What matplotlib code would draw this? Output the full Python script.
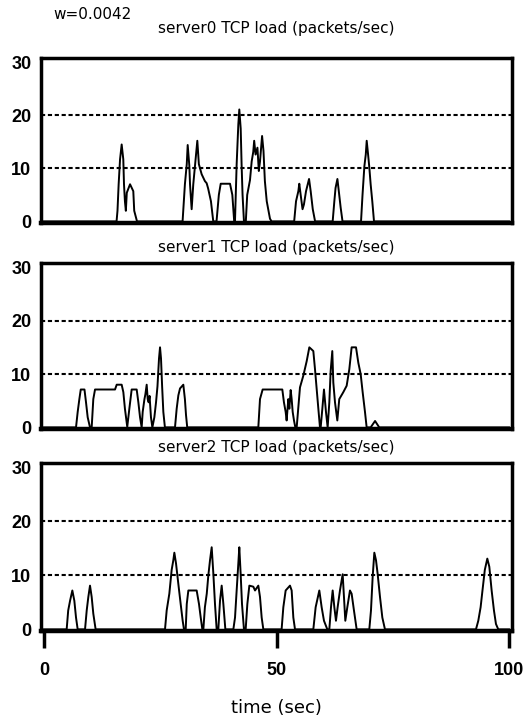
import numpy as np
import matplotlib
matplotlib.use("Agg")
import matplotlib.pyplot as plt

# carga TCP de cada servidor (puntos de quiebre)
t0 = [0, 15.6, 15.8, 16.05, 16.35, 16.7, 17.05, 17.2, 17.4, 17.6, 17.8, 18.5, 19.2, 19.4, 20.0,
      29.8, 30.3, 30.7, 30.9, 31.25, 31.4, 31.75, 32.1, 32.97, 33.3, 33.9, 34.6, 34.98, 35.3, 35.9, 36.4,
      37.1, 37.6, 38.0, 40.0, 40.5, 40.9,
      41.07, 41.43, 41.79, 42.0, 42.3, 42.5, 42.7, 43.0,
      43.4, 43.7, 44.3, 44.66, 45.0, 45.2, 45.5, 45.9, 46.2, 46.45, 46.9, 47.2, 47.5, 47.9, 48.6, 48.95,
      53.8, 54.2, 54.7, 54.9, 55.2, 55.6, 55.9, 56.35, 57.0, 57.35, 57.8, 58.3,
      62.08, 62.44, 62.7, 63.1, 63.4, 63.8, 64.2,
      68.18, 68.5, 68.9, 69.2, 69.4, 69.7, 69.97, 70.25, 70.6, 70.97, 100]
load0 = [0, 0, 2, 7, 11.7, 14.5, 11.7, 7, 3.8, 2, 5.4, 7, 5.7, 2, 0,
         0, 7, 10.8, 14.4, 10.5, 7, 2.3, 7, 15.2, 10.8, 8.9, 7.6, 7.2, 6.2, 3.8, 0,
         0, 5, 7.1, 7.1, 5, 0,
         0, 10.8, 18.3, 21.1, 17.5, 10.5, 5, 0,
         0, 5, 7.8, 11.3, 13.1, 15.2, 12.6, 13.9, 9.5, 11.3, 16.1, 13.3, 7.6, 3.8, 0.5, 0,
         0, 3.8, 5.7, 7.1, 5, 2.3, 3.2, 5.7, 8, 5.7, 2.3, 0,
         0, 3.8, 6.3, 8, 5.7, 2.6, 0,
         0, 5, 10.4, 12.6, 15.2, 12.6, 10.1, 7, 3.8, 0, 0]

t1 = [0, 6.88, 7.24, 7.6, 7.9, 8.7, 9.03, 9.39, 9.89,
      10.25, 10.6, 10.97, 15.27, 15.63, 16.7, 17.06, 17.4, 17.9,
      18.35, 18.85, 19.93, 20.29, 20.65, 21.0,
      21.22, 21.6, 21.8, 22.08, 22.3, 22.5, 22.7, 23.0, 23.3,
      23.73, 24.09, 24.4, 24.73, 24.95, 25.16, 25.4, 25.66, 26.0,
      28.17, 28.53, 28.89, 29.25, 29.96, 30.3, 30.54, 30.8,
      46.09, 46.45, 47.02, 51.25, 51.6, 51.97, 52.18, 52.54, 52.76, 53.05, 53.26, 53.48, 53.76, 54.05,
      54.34, 55.05, 55.77, 56.49, 57.06, 57.56, 57.92, 58.28, 58.64, 59.0, 59.35,
      59.5, 59.86, 60.21, 60.64, 61.0, 61.36, 61.65, 62.0, 62.22, 62.58, 63.08,
      63.5, 64.37, 65.09, 65.66, 66.16, 67.1, 67.6, 68.1, 68.53, 69.03, 69.39,
      70.25, 71.2, 72.1, 100]
load1 = [0, 0, 2.9, 5.3, 7.1, 7.1, 4.7, 1.9, 0,
         0, 5.3, 7.1, 7.1, 8.0, 8.0, 6.6, 3.5, 0.1,
         3.5, 7.1, 7.1, 4.7, 1.9, 0,
         2.9, 5.3, 6.2, 8.0, 5.3, 4.7, 5.9, 1.9, 0,
         1.9, 4.7, 7.7, 12.9, 15.0, 12.9, 7.7, 2.9, 0,
         0, 3.5, 6.0, 7.3, 8.0, 5.3, 2.3, 0,
         0, 5.3, 7.1, 7.1, 4.7, 2.9, 1.3, 5.3, 3.5, 7.0, 5.3, 2.9, 1.3, 0,
         0, 7.5, 9.7, 12.4, 15.0, 14.6, 14.3, 10.9, 7.2, 3.5, 0,
         0, 3.5, 7.1, 2.9, 0, 4.7, 10.6, 14.3, 8.4, 4.7, 1.3,
         5.3, 6.6, 7.8, 10.9, 15.0, 15.0, 12.1, 10.0, 6.6, 2.9, 0,
         0, 1.2, 0, 0]

t2 = [0, 4.87, 5.2, 5.6, 6.09, 6.52, 6.88, 7.24,
      8.82, 9.18, 9.53, 9.89, 10.25, 10.6, 11.1,
      26.02, 26.38, 26.95, 27.45, 27.81, 28.03, 28.39, 28.89, 29.39, 29.82, 30.1,
      30.47, 30.7, 31.04, 32.83, 33.33, 33.7, 34.05,
      34.27, 34.6, 35.0, 35.34, 35.7, 36.06, 36.42, 36.77, 37.13,
      37.49, 37.85, 38.21, 38.57, 39.0,
      40.72, 41.08, 41.43, 41.79, 42.0, 42.29, 42.58, 43.0,
      43.37, 43.73, 44.16, 45.02, 45.38, 46.09, 46.45, 46.81, 47.17,
      51.1, 51.47, 51.97, 52.9, 53.26, 53.62, 53.98,
      57.92, 58.42, 59.21, 59.71, 60.21, 60.93,
      61.36, 61.72, 62.08, 62.44, 62.79, 63.15, 63.65, 64.23, 64.51, 64.8, 65.23, 65.8, 66.16, 66.66, 67.24,
      69.96, 70.32, 70.68, 71.04, 71.4, 71.75, 72.26, 72.76, 73.33,
      92.9, 93.4, 93.9, 94.3, 94.8, 95.34, 95.77, 96.27, 96.77, 97.2, 97.7, 100]
load2 = [0, 0, 3.5, 5.3, 7.2, 5.3, 2.2, 0,
         0, 3.5, 6.0, 8.1, 6.0, 2.9, 0,
         0, 3.5, 6.6, 11.0, 12.8, 14.2, 12.2, 8.4, 4.7, 1.6, 0,
         0, 4.7, 7.2, 7.2, 4.7, 2.2, 0,
         0, 4.1, 6.6, 10.0, 12.8, 15.2, 10.3, 4.7, 0,
         0, 5.3, 8.1, 4.7, 0,
         0, 2.2, 7.2, 12.2, 15.2, 10.3, 4.7, 0,
         0, 4.7, 8.1, 7.9, 7.2, 8.1, 6.0, 2.2, 0,
         0, 4.1, 7.2, 8.1, 7.2, 2.2, 0,
         0, 4.1, 7.2, 4.1, 1.6, 0,
         0, 4.1, 7.2, 4.1, 1.6, 4.1, 7.2, 10.2, 6.0, 1.6, 4.1, 7.2, 6.6, 3.5, 0,
         0, 3.5, 9.7, 14.2, 12.8, 10.3, 6.0, 2.2, 0,
         0, 1.6, 4.1, 7.2, 11.0, 13.1, 11.6, 7.2, 3.5, 1.0, 0, 0]

titulos = ["server0 TCP load (packets/sec)",
           "server1 TCP load (packets/sec)",
           "server2 TCP load (packets/sec)"]
series = [(t0, load0), (t1, load1), (t2, load2)]

# posiciones de los ejes en pixeles (arriba, abajo)
cajas = [(58, 223), (263, 429), (463, 631)]
pads = [17.8, 8, 8]

fig = plt.figure(figsize=(5.26, 7.24), dpi=100)
fig.text(53/526, 1 - 19/724, "w=0.0042", fontsize=11, va="baseline")

for i in range(3):
    top, bot = cajas[i]
    ax = fig.add_axes([41/526, 1 - bot/724, 471/526, (bot - top)/724])
    t, y = series[i]
    ax.plot(t, y, color="black", linewidth=1.4)
    for g in [10, 20]:
        ax.axhline(g, color="black", linewidth=1.5, linestyle=(0, (2, 1.3)))
    ax.set_xlim(-0.65, 100.65)
    ax.set_ylim(-0.3, 30.8)
    ax.set_yticks([0, 10, 20, 30])
    ax.set_yticklabels(["0", "10", "20", "30"], family="Liberation Sans",
                       fontweight="bold", fontsize=13)
    ax.tick_params(axis="y", length=0, pad=7)
    for s in ax.spines.values():
        s.set_linewidth(2.5)
    ax.spines["bottom"].set_linewidth(3.2)
    ax.set_title(titulos[i], fontsize=11, pad=pads[i])
    if i < 2:
        ax.set_xticks([])
    else:
        ax.set_xticks([0, 50, 100])
        ax.set_xticklabels(["0", "50", "100"], family="Liberation Sans",
                           fontweight="bold", fontsize=13)
        ax.tick_params(axis="x", direction="out", length=12, width=2.5, pad=10)

fig.text(276/526, 1 - 708/724, "time (sec)", fontsize=13, ha="center", va="center")

plt.savefig("out.png", dpi=100)
